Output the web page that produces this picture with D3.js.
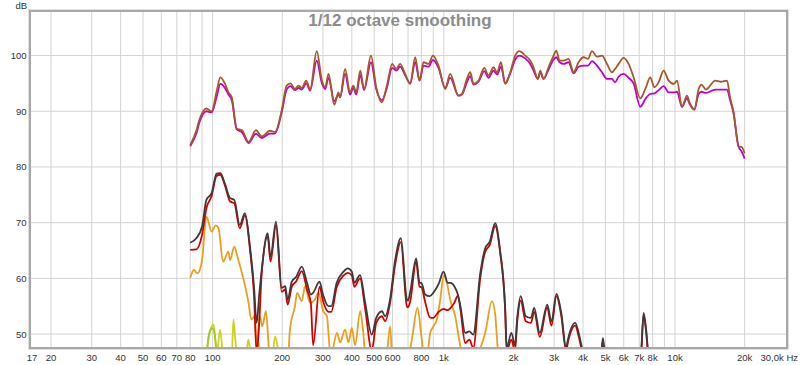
<!DOCTYPE html>
<html>
<head>
<meta charset="utf-8">
<script src="https://cdn.jsdelivr.net/npm/d3@7"></script>
<style>
  body { margin: 0; background: #fff; }
  text { font-family: "Liberation Sans", Arial, sans-serif; }
</style>
</head>
<body>
<svg id="chart" width="800" height="365"></svg>
<script>
var title = "1/12 octave smoothing"

var yTicks = [50, 60, 70, 80, 90, 100]
var xLabels = [17, 20, 30, 40, 50, 60, 70, 80, 100, 200, 300, 400, 500, 600, 800,
               1000, 2000, 3000, 4000, 5000, 6000, 7000, 8000, 10000, 20000]

// upper pair of curves share one frequency list
var topHz = [80, 85, 88, 94, 99, 104, 108, 113, 117, 121, 127, 134, 143, 154, 163, 177, 186, 199,
  209, 217, 227, 235, 243, 254, 264, 282, 297, 307, 317, 336, 350, 356, 374, 393, 406, 418, 435,
  452, 484, 510, 540, 567, 598, 622, 647, 680, 715, 752, 785, 817, 858, 897, 948, 1014, 1065,
  1157, 1197, 1258, 1301, 1344, 1413, 1495, 1561, 1640, 1700, 1766, 1843, 1937, 2036, 2125,
  2249, 2364, 2443, 2553, 2612, 2700, 2837, 2984, 3065, 3167, 3300, 3463, 3640, 3826, 4022,
  4200, 4374, 4596, 4831, 5078, 5337, 5500, 5700, 5993, 6300, 6620, 7077, 7438, 7816, 8137,
  8493, 8926, 9383, 9900, 10200, 10716, 11260, 11600, 12120, 12650, 13000, 13600, 14935,
  15800, 16780, 17300, 17910, 18840, 19400, 20000]
var brownDb = [83.9, 86.5, 88.7, 90.5, 90.0, 93.5, 96.1, 95.0, 93.4, 92.5, 86.9, 86.6, 84.5, 86.6,
  85.5, 86.5, 86.3, 90.2, 94.6, 95.0, 94.0, 94.6, 94.2, 95.5, 93.9, 100.8, 95.5, 94.3, 96.7, 91.2,
  93.4, 92.5, 97.6, 93.4, 94.6, 93.4, 97.3, 94.0, 100.0, 94.3, 91.6, 94.6, 98.5, 97.6, 98.5, 96.7,
  94.9, 99.7, 95.5, 98.8, 98.5, 100.0, 98.2, 94.0, 96.7, 92.8, 93.1, 95.8, 97.0, 94.9, 95.5, 97.8,
  96.4, 97.9, 97.0, 98.8, 94.9, 97.0, 100.0, 100.8, 100.0, 99.1, 97.9, 95.8, 97.3, 95.8, 97.9,
  100.0, 100.9, 99.1, 99.1, 99.4, 97.0, 98.8, 99.7, 99.4, 100.8, 99.8, 100.0, 98.5, 97.0, 97.6,
  98.5, 99.6, 98.5, 96.1, 92.3, 94.0, 96.1, 94.3, 95.2, 97.3, 95.5, 94.9, 95.5, 90.8, 92.8, 91.4,
  90.3, 94.0, 94.8, 93.9, 95.5, 95.3, 95.5, 92.5, 89.9, 83.6, 83.6, 82.4]
var magentaDb = [83.7, 86.0, 88.2, 90.0, 89.8, 92.5, 94.9, 94.2, 93.0, 92.0, 86.8, 86.2, 84.3, 86.0,
  85.2, 86.0, 86.0, 89.8, 93.9, 94.5, 93.8, 94.2, 93.9, 95.0, 93.7, 99.1, 95.0, 94.0, 96.0, 91.8,
  93.0, 92.5, 96.7, 93.0, 94.2, 93.0, 96.5, 93.8, 98.8, 94.0, 92.0, 94.2, 97.8, 97.3, 98.0, 96.5,
  95.0, 98.8, 95.5, 98.2, 98.0, 99.2, 97.8, 94.2, 96.0, 92.8, 93.0, 95.2, 96.3, 94.8, 95.3, 97.2,
  96.0, 97.3, 96.6, 98.0, 95.0, 96.8, 99.3, 100.0, 99.5, 98.5, 97.3, 95.8, 97.0, 95.8, 97.5,
  99.3, 99.7, 98.8, 98.5, 98.8, 96.8, 98.0, 98.2, 98.2, 99.0, 98.2, 97.0, 95.8, 95.8, 95.2,
  96.2, 96.7, 96.0, 95.0, 90.8, 92.2, 93.1, 93.2, 93.8, 94.5, 93.4, 93.4, 93.5, 90.8, 92.3, 91.2,
  90.3, 93.1, 93.5, 93.3, 93.9, 93.9, 93.9, 92.0, 89.6, 83.6, 82.8, 81.5]

// lower pair of curves
var lowHz = [80, 85, 90, 94, 99, 104, 108, 113, 119, 124, 131, 138, 145, 151, 155, 159, 163, 173,
  178, 188, 199, 206, 211, 220, 230, 243, 256, 266, 272, 290, 300, 317, 326, 344, 368, 384, 400,
  410, 434, 457, 488, 510, 540, 557, 585, 616, 652, 692, 700, 715, 759, 785, 800, 830, 870, 900,
  950, 997, 1040, 1070, 1110, 1150, 1180, 1237, 1290, 1340, 1437, 1510, 1580, 1668, 1750, 1843,
  1870, 1960, 2030, 2080, 2150, 2260, 2380, 2460, 2600, 2800, 2920, 3070, 3220, 3380, 3440,
  3700, 3830, 3960, 4300, 4780, 4877, 4980, 6000, 7100, 7313, 7500, 7700, 9000]
var grayDb = [66.4, 67.2, 69.3, 74.1, 75.3, 78.8, 78.9, 77.0, 74.4, 74.1, 69.6, 71.7, 65.7, 58.5,
  52.0, 57.0, 61.5, 68.1, 63.9, 70.2, 58.3, 58.6, 56.2, 59.4, 60.3, 62.1, 59.2, 57.1, 57.4, 59.4,
  57.1, 55.0, 55.0, 59.2, 61.2, 61.8, 61.2, 59.2, 60.6, 55.6, 49.9, 52.9, 54.1, 53.2, 56.2, 63.3,
  67.2, 56.2, 56.0, 57.5, 63.6, 59.2, 59.2, 57.1, 56.8, 57.4, 59.0, 61.2, 59.2, 59.2, 58.6, 57.1,
  55.0, 50.2, 50.5, 49.9, 60.9, 65.4, 66.6, 69.9, 65.1, 54.4, 47.5, 50.2, 48.0, 53.2, 56.8, 53.2,
  52.9, 54.7, 50.2, 55.3, 52.3, 57.2, 53.8, 47.5, 49.0, 52.0, 50.2, 47.5, 44.0, 46.0, 49.3, 46.0,
  44.0, 46.0, 53.8, 50.8, 46.0, 42.0]
var redDb = [65.1, 65.2, 67.8, 72.6, 74.8, 78.4, 78.6, 76.7, 73.8, 73.5, 69.0, 71.3, 65.2, 57.0,
  46.5, 52.0, 60.8, 67.5, 63.0, 69.6, 57.6, 58.0, 55.3, 58.5, 59.5, 61.3, 58.0, 55.5, 48.0, 58.5,
  56.0, 54.0, 54.0, 58.4, 60.5, 61.0, 60.5, 58.5, 60.0, 54.5, 47.0, 52.0, 53.2, 52.3, 55.5, 62.5,
  66.5, 55.0, 54.8, 55.8, 63.0, 58.5, 58.4, 55.8, 53.0, 52.9, 54.0, 54.5, 54.3, 54.7, 55.6, 56.9,
  54.4, 48.4, 49.0, 47.5, 60.0, 64.8, 66.0, 69.4, 64.8, 54.0, 47.0, 49.0, 47.0, 52.5, 56.0, 52.3,
  52.0, 54.0, 49.5, 54.8, 51.5, 56.8, 53.3, 47.0, 48.5, 51.5, 49.6, 47.0, 44.0, 45.5, 48.8, 45.5,
  44.0, 45.5, 53.5, 50.3, 45.5, 42.0]

var orangeHz = [80, 83, 86, 90, 94, 99, 103, 106, 111, 117, 119, 124, 128, 143, 147, 152, 155, 160,
  164, 170, 174, 177, 190, 212, 216, 227, 232, 243, 251, 264, 277, 287, 301, 312, 324, 345, 356,
  374, 387, 400, 413, 435, 447, 461, 560, 586, 600, 701, 727, 769, 798, 822, 845, 873, 902, 933,
  965, 1000, 1031, 1065, 1120, 1177, 1250, 1510, 1614, 1668, 1724, 1800]
var orangeDb = [60.1, 61.5, 60.9, 63.3, 71.1, 68.4, 69.5, 69.0, 63.0, 64.8, 63.3, 65.7, 63.9, 55.6,
  52.6, 53.2, 48.1, 53.2, 51.4, 54.1, 49.0, 44.0, 42.0, 46.0, 50.8, 55.0, 57.4, 55.9, 58.6, 55.6,
  56.2, 57.4, 54.1, 53.2, 46.0, 50.2, 48.5, 50.8, 48.5, 51.1, 48.0, 54.1, 50.8, 45.0, 45.0, 51.4,
  45.0, 46.0, 49.0, 54.7, 50.0, 46.0, 46.0, 50.2, 51.4, 52.6, 56.2, 60.6, 59.2, 56.2, 53.2, 48.0,
  44.0, 50.2, 55.9, 53.5, 46.0, 44.0]

var limeHz = [93.7, 95.9, 99.2, 100.8, 102.5, 104.3, 107.7, 111.3, 121, 123, 125, 127.6, 138.9,
  142.8, 146.7, 154.2, 157.7, 162, 180.9, 186.3, 192.5, 198]
var limeDb = [46.0, 49.0, 51.4, 51.7, 49.6, 46.5, 50.8, 46.0, 46.0, 52.6, 49.6, 46.0, 46.0, 49.0,
  46.0, 46.0, 48.7, 46.0, 46.0, 49.6, 47.0, 45.0]

var greenHz = [94, 96, 98, 100, 102, 104]
var greenDb = [46.0, 49.5, 50.8, 51.0, 50.0, 46.0]

var svg = d3.select("#chart")
var plotL = 30, plotR = 787, plotT = 11, plotB = 348

var x = d3.scaleLog().domain([16.22, 30500]).range([plotL, plotR])
var y = d3.scaleLinear().domain([47.5, 108]).range([plotB, plotT])

var gridHz = []
;[10, 100, 1000, 10000].forEach(dec => {
  for (var k = 1; k < 10; k++) {
    var f = k * dec
    if (f >= 20 && f <= 20000) gridHz.push(f)
  }
})

svg.append("defs").append("clipPath").attr("id", "plotClip")
  .append("rect")
  .attr("x", plotL).attr("y", plotT)
  .attr("width", plotR - plotL).attr("height", plotB - plotT)

svg.append("g").selectAll("line")
  .data(gridHz)
  .enter()
  .append("line")
  .attr("x1", d => x(d)).attr("x2", d => x(d))
  .attr("y1", plotT).attr("y2", plotB)
  .style("stroke", "#d3d3d3")
  .style("stroke-width", 1)

svg.append("g").selectAll("line")
  .data(yTicks)
  .enter()
  .append("line")
  .attr("x1", plotL).attr("x2", plotR)
  .attr("y1", d => y(d)).attr("y2", d => y(d))
  .style("stroke", "#d3d3d3")
  .style("stroke-width", 1)

function series(hz, db) {
  return hz.map((f, i) => [f, db[i]])
}

var line = d3.line()
  .x(d => x(d[0]))
  .y(d => y(d[1]))
  .curve(d3.curveMonotoneX)

var curves = [
  {data: series(limeHz, limeDb), color: "#cfd21e"},
  {data: series(greenHz, greenDb), color: "#9ccc2c"},
  {data: series(orangeHz, orangeDb), color: "#e8a020"},
  {data: series(lowHz, redDb), color: "#d40000"},
  {data: series(lowHz, grayDb), color: "#3f3a3a"},
  {data: series(topHz, magentaDb), color: "#c000c8"},
  {data: series(topHz, brownDb), color: "#a5592a"}
]

svg.append("g")
  .attr("clip-path", "url(#plotClip)")
  .selectAll("path")
  .data(curves)
  .enter()
  .append("path")
  .attr("d", d => line(d.data))
  .style("fill", "none")
  .style("stroke", d => d.color)
  .style("stroke-width", 1.8)
  .style("stroke-linejoin", "round")

// frame, with a soft outer edge
svg.append("rect")
  .attr("x", plotL - 1).attr("y", plotT - 1)
  .attr("width", plotR - plotL + 2).attr("height", plotB - plotT + 2)
  .style("fill", "none")
  .style("stroke", "#d6d6d6")
  .style("stroke-width", 1.5)

svg.append("rect")
  .attr("x", plotL).attr("y", plotT)
  .attr("width", plotR - plotL).attr("height", plotB - plotT)
  .style("fill", "none")
  .style("stroke", "#a8a8a8")
  .style("stroke-width", 2)

svg.append("g").selectAll("text")
  .data(yTicks)
  .enter()
  .append("text")
  .attr("x", 26.5)
  .attr("y", d => y(d) + 3.5)
  .text(d => d)
  .style("text-anchor", "end")
  .style("font-size", "9.5px")
  .style("fill", "#333")

svg.append("text")
  .attr("x", 27).attr("y", 8.5)
  .text("dB")
  .style("text-anchor", "end")
  .style("font-size", "9.5px")
  .style("fill", "#333")

function fmtHz(f) {
  return f >= 1000 ? (f / 1000) + "k" : "" + f
}

svg.append("g").selectAll("text")
  .data(xLabels)
  .enter()
  .append("text")
  .attr("x", d => d == 17 ? 32 : x(d))
  .attr("y", 360.5)
  .text(d => fmtHz(d))
  .style("text-anchor", "middle")
  .style("font-size", "9.5px")
  .style("fill", "#333")

svg.append("text")
  .attr("x", 798).attr("y", 360.5)
  .text("30,0k Hz")
  .style("text-anchor", "end")
  .style("font-size", "9.5px")
  .style("fill", "#333")

svg.append("text")
  .attr("x", 400).attr("y", 26)
  .text(title)
  .style("text-anchor", "middle")
  .style("font-size", "17px")
  .style("font-weight", "bold")
  .style("fill", "#8c8c8c")
</script>
</body>
</html>
